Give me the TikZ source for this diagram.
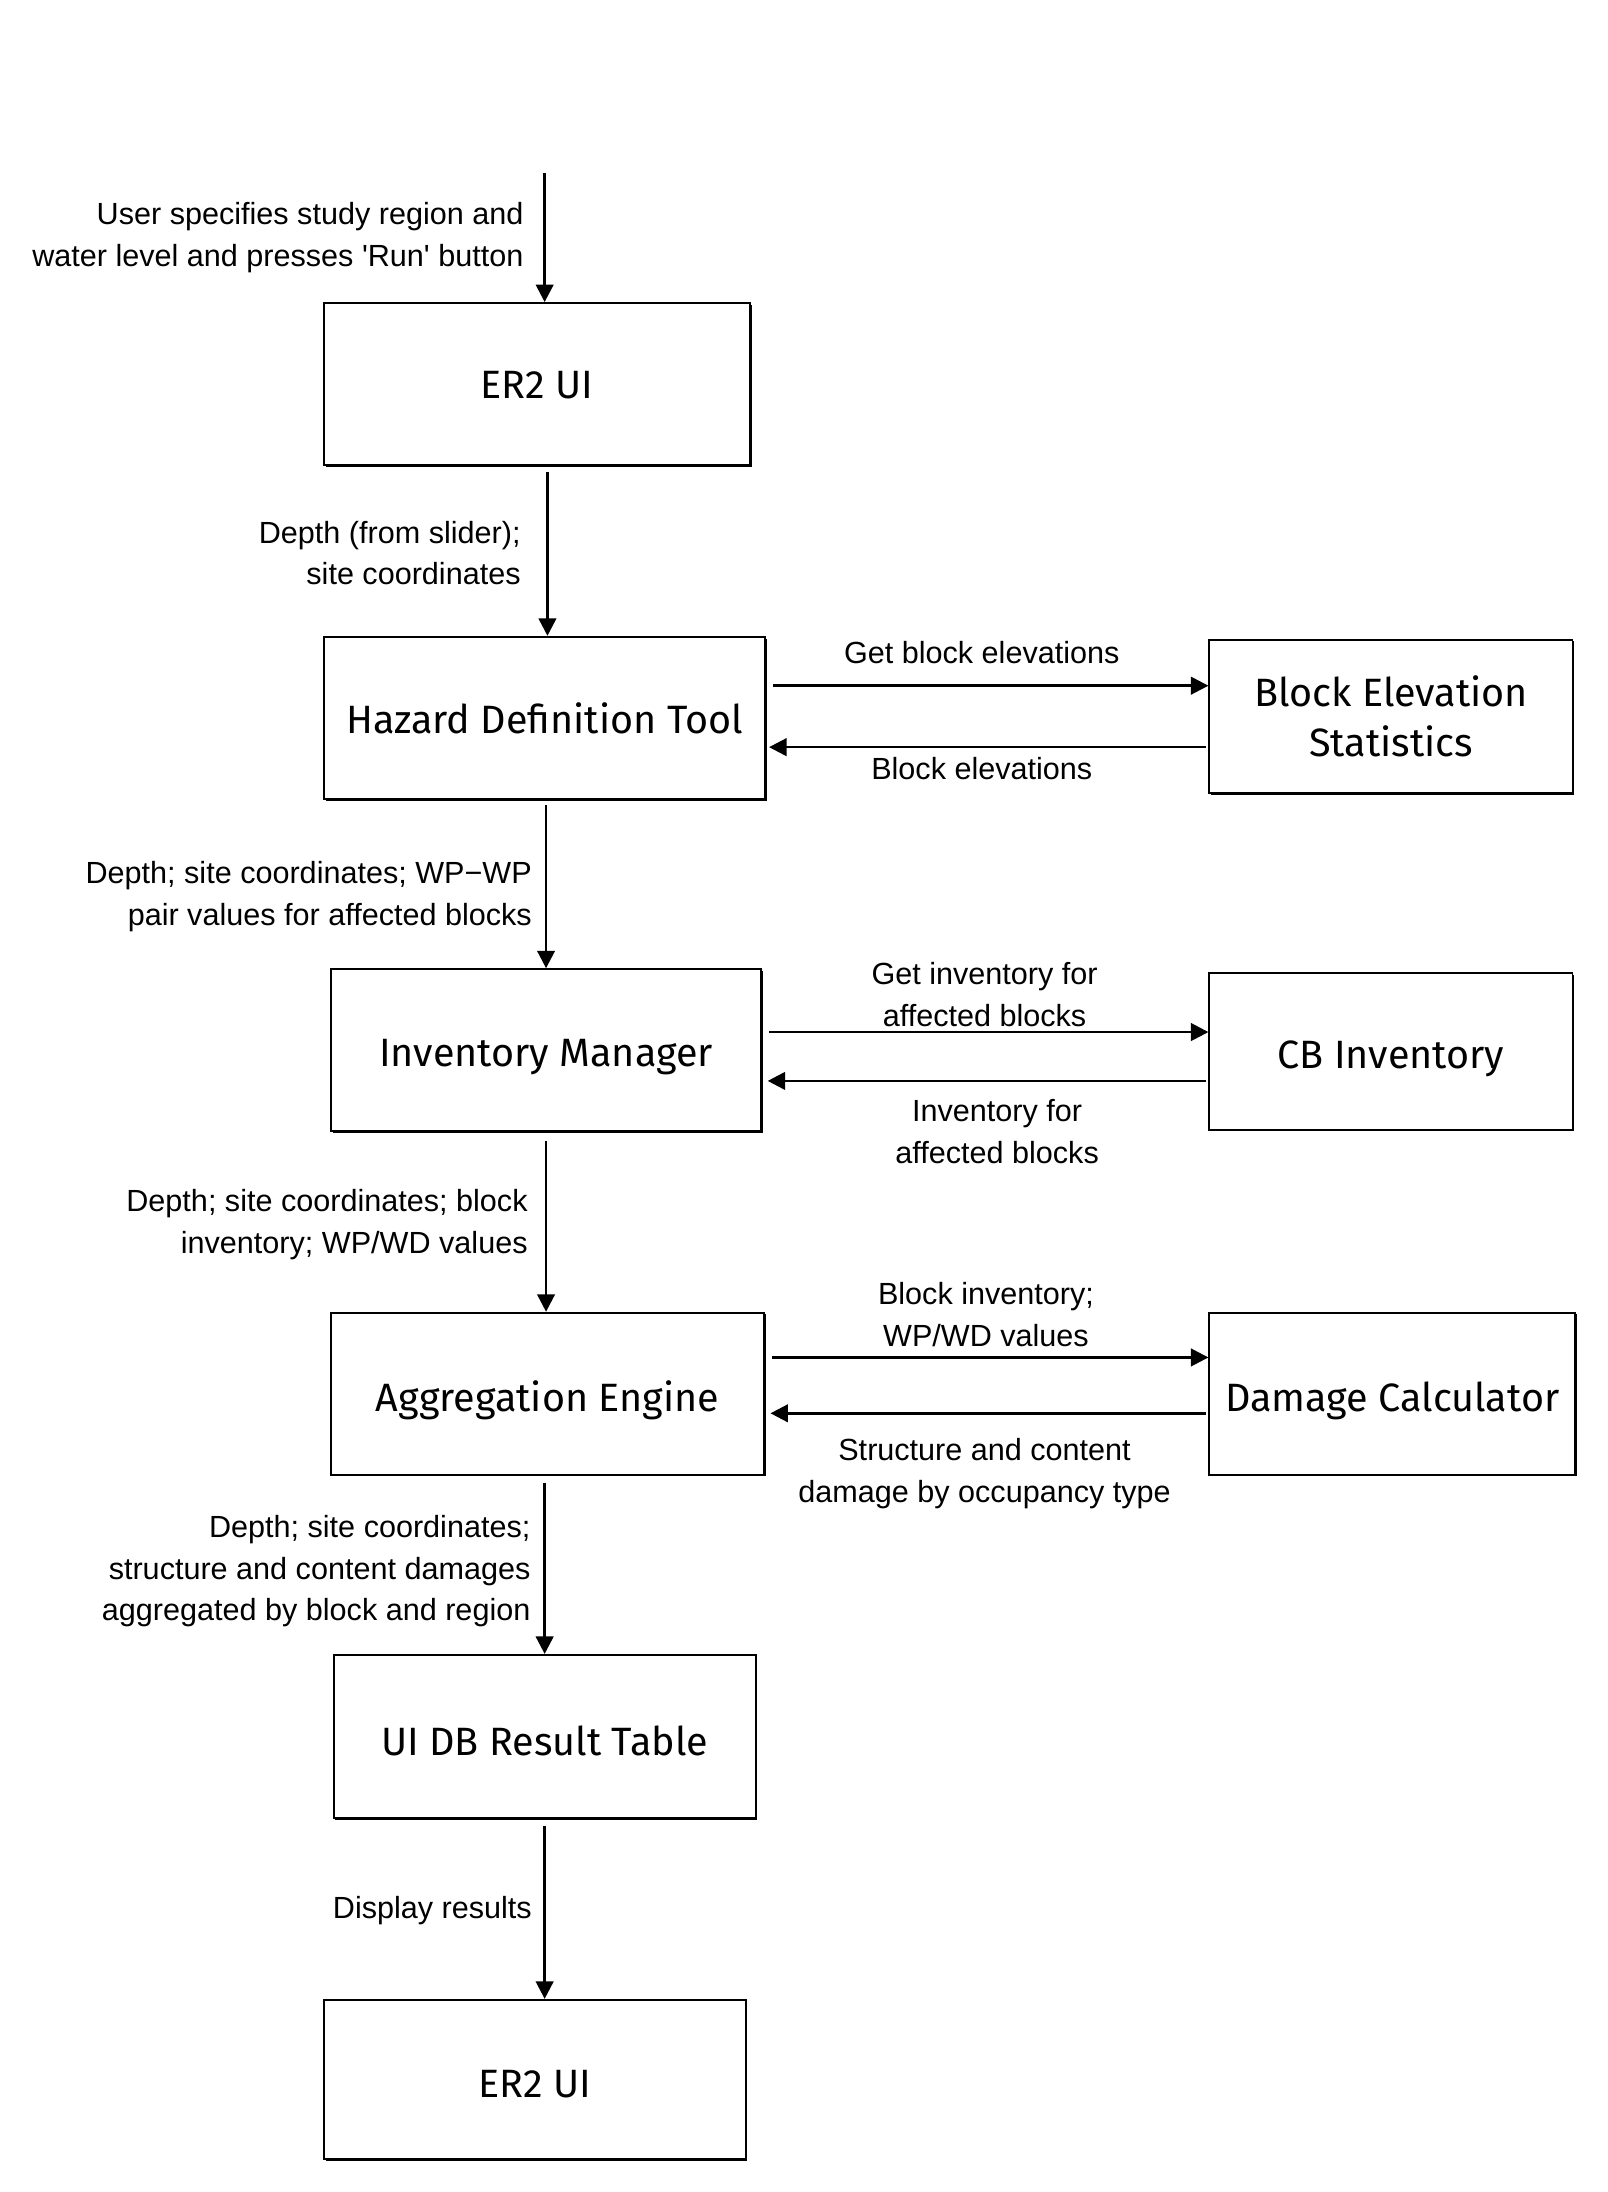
\documentclass[tikz,border=0pt]{standalone}
\usepackage{fontspec}
\usetikzlibrary{arrows.meta,shadows,calc}
\newfontfamily\boxfont{Fira Sans}
\newfontfamily\labfont{Liberation Sans}[Ligatures=TeXOff]
\newcommand\dnshift[2]{\raisebox{-#1pt}[\height][\depth]{#2}}
\begin{document}
\begin{tikzpicture}[x=1pt,y=-1pt,
  blk/.style={draw=black,line width=1.4pt,fill=white,rectangle,inner sep=0pt,align=center,
    font=\boxfont\fontsize{28.3}{36}\selectfont,
    drop shadow={shadow xshift=1.2pt,shadow yshift=-1.2pt,fill=black,opacity=1}},
  lab/.style={inner sep=0pt,font=\labfont\fontsize{21.9}{30}\selectfont},
  arr/.style={line width=1.9pt,-{Triangle[length=12.5pt,width=12.5pt]}}]
\useasboundingbox (0,0) rectangle (1151.4,1569.6);
\node[blk,minimum width=305,minimum height=116] (er2a) at (384.5,275) {\dnshift{1}{ER2 UI}};
\node[blk,minimum width=316,minimum height=116] (hdt) at (390,514) {Hazard Definition Tool};
\node[blk,minimum width=260,minimum height=110] (bes) at (996,513) {Block Elevation\\Statistics};
\node[blk,minimum width=308,minimum height=116] (im) at (391,752) {\dnshift{5}{Inventory Manager}};
\node[blk,minimum width=260,minimum height=112] (cbi) at (996,753) {\dnshift{5}{CB Inventory}};
\node[blk,minimum width=310,minimum height=116] (ae) at (392,998) {\dnshift{5}{Aggregation Engine}};
\node[blk,minimum width=262,minimum height=116] (dc) at (997,998) {\dnshift{5}{Damage Calculator}};
\node[blk,minimum width=302,minimum height=117] (uidb) at (390,1243.5) {\dnshift{3}{UI DB Result Table}};
\node[blk,minimum width=302,minimum height=114] (er2b) at (383,1489) {\dnshift{3}{ER2 UI}};
\coordinate (start) at (390,124);
% vertical arrows
\draw[arr] (start) -- (start |- er2a.north);
\draw[arr] ($(er2a.south -| hdt.north)+(2,4)$) -- ($(hdt.north)+(2,0)$);
\draw[arr] ($(hdt.south -| im.north)+(0,4)$) -- (im.north);
\draw[arr] ($(im.south)+(0,6)$) -- (im.south |- ae.north);
\draw[arr] ($(ae.south -| uidb.north)+(0,5)$) -- (uidb.north);
\draw[arr] ($(uidb.south)+(0,5)$) -- (uidb.south |- er2b.north);
% horizontal arrows
\draw[arr] ($(hdt.east)+(5,-23)$) -- ($(bes.west)+(0,-22)$);
\draw[arr] ($(bes.west)+(-2,22)$) -- ($(hdt.east)+(2,21)$);
\draw[arr] ($(im.east)+(5,-13)$) -- ($(cbi.west)+(0,-14)$);
\draw[arr] ($(cbi.west)+(-2,21)$) -- ($(im.east)+(4,22)$);
\draw[arr] ($(ae.east)+(5,-26)$) -- ($(dc.west)+(0,-26)$);
\draw[arr] ($(dc.west)+(-2,14)$) -- ($(ae.east)+(4,14)$);
% labels
\node[lab,anchor=east,align=right] (l1) at (375,170) {User specifies study region and\\water level and presses 'Run' button};
\node[lab,anchor=east,align=right] (l2) at (373,396) {Depth (from slider);\\site coordinates};
\node[lab,align=center] (l3) at (703,467) {Get block elevations};
\node[lab,align=center] (l4) at (703,550) {Block elevations};
\node[lab,anchor=east,align=right] (l5) at (381,642) {Depth; site coordinates; WP−WP\\pair values for affected blocks};
\node[lab,align=center] (l6) at (705,712) {Get inventory for\\affected blocks};
\node[lab,align=center] (l7) at (714,810) {Inventory for\\affected blocks};
\node[lab,anchor=east,align=right] (l8) at (378,877) {Depth; site coordinates; block\\inventory; WP/WD values};
\node[lab,align=center] (l9) at (706,941) {Block inventory;\\WP/WD values};
\node[lab,align=center] (l10) at (705,1055) {Structure and content\\damage by occupancy type};
\node[lab,anchor=east,align=right] (l11) at (380,1125) {Depth; site coordinates;\\structure and content damages\\aggregated by block and region};
\node[lab,anchor=east,align=right] (l12) at (381,1368) {Display results};
\end{tikzpicture}
\end{document}
